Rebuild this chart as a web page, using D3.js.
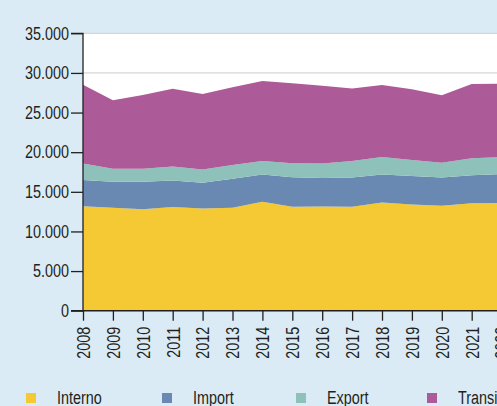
<!DOCTYPE html>
<html>
<head>
<meta charset="utf-8">
<script src="https://cdn.jsdelivr.net/npm/d3@7"></script>
<style>
  html, body { margin: 0; padding: 0; overflow: hidden; background: #dbebf5; }
  svg { display: block; }
  text { font-family: "Liberation Sans", Arial, sans-serif; fill: #231f20; }
</style>
</head>
<body>
<svg id="chart" width="497" height="406"></svg>
<script>
const years = [2008,2009,2010,2011,2012,2013,2014,2015,2016,2017,2018,2019,2020,2021,2022];
const seriesNames = ["Interno", "Import", "Export", "Transit"];
const interno = [13190,12980,12810,13070,12900,12980,13740,13130,13160,13100,13660,13400,13230,13570,13600];
const importV = [3290,3280,3450,3370,3240,3660,3460,3710,3570,3720,3540,3580,3590,3530,3630];
const exportV = [2100,1640,1640,1760,1690,1730,1680,1760,1850,2060,2180,2020,1840,2120,2150];
const transit = [9930,8640,9310,9800,9510,9810,10100,10090,9810,9170,9090,8930,8510,9380,9260];
const yTicks = [0,5000,10000,15000,20000,25000,30000,35000];
const colors = ["#f4c934", "#6a89b2", "#8ec1b9", "#ad5a98"];

(function () {
const rows = years.map((yr, i) => ({
  year: yr, Interno: interno[i], Import: importV[i], Export: exportV[i], Transit: transit[i]
}));

const svg = d3.select("#chart");
const mLeft = 83, mTop = 33.3, mBottom = 310.7;
const step = 29.9;
const x = d3.scaleLinear().domain([2008, 2022]).range([mLeft, mLeft + 14 * step]);
const y = d3.scaleLinear().domain([0, 35000]).range([mBottom, mTop]);

svg.append("rect")
  .attr("x", mLeft).attr("y", mTop)
  .attr("width", 600).attr("height", mBottom - mTop)
  .attr("fill", "#ffffff");

svg.append("g").selectAll("line").data(yTicks.filter(d => d > 0)).join("line")
  .attr("x1", mLeft).attr("x2", 600)
  .attr("y1", d => y(d)).attr("y2", d => y(d))
  .attr("stroke", "#cccccc").attr("stroke-width", 1);

const layers = d3.stack().keys(seriesNames)(rows);
const area = d3.area()
  .x(d => x(d.data.year))
  .y0(d => y(d[0]))
  .y1(d => y(d[1]));

svg.append("g").selectAll("path").data(layers).join("path")
  .attr("d", area)
  .attr("fill", (d, i) => colors[i]);

const fontFam = '"Liberation Sans", Arial, sans-serif';

const yAxis = d3.axisLeft(y)
  .tickValues(yTicks)
  .tickSize(12)
  .tickPadding(2)
  .tickFormat(d => d === 0 ? "0" : d3.format(",")(d).replace(/,/g, "."));
const gy = svg.append("g").attr("transform", `translate(${mLeft},0)`).call(yAxis);
gy.select(".domain").attr("stroke", "#231f20").attr("stroke-width", 1.3)
  .attr("d", `M-12,${mTop}H0V${mBottom}H-12`);
gy.selectAll(".tick line").attr("stroke", "#231f20").attr("stroke-width", 1.3);
gy.selectAll(".tick text").attr("font-size", 18).attr("fill", "#231f20")
  .style("font-family", fontFam);

const xAxis = d3.axisBottom(x)
  .tickValues(years)
  .tickSize(10)
  .tickPadding(6)
  .tickFormat(d3.format("d"));
const gx = svg.append("g").attr("transform", `translate(0,${mBottom})`).call(xAxis);
gx.select(".domain").attr("stroke", "#231f20").attr("stroke-width", 1.6)
  .attr("d", `M${mLeft},0H600`);
gx.selectAll(".tick line").attr("stroke", "#231f20").attr("stroke-width", 1.3);
gx.selectAll(".tick text")
  .attr("font-size", 18).attr("fill", "#231f20")
  .style("font-family", fontFam)
  .attr("text-anchor", "end")
  .attr("transform", "rotate(-90)")
  .attr("x", -16).attr("y", 0).attr("dy", "0.35em");

const legendX = [26, 162, 296, 427];
const lg = svg.append("g").selectAll("g").data(seriesNames).join("g")
  .attr("transform", (d, i) => `translate(${legendX[i]},393)`);
lg.append("rect").attr("width", 10).attr("height", 10).attr("fill", (d, i) => colors[i]);
lg.append("text").attr("x", 31).attr("y", 10.5).attr("font-size", 18)
  .style("font-family", fontFam).text(d => d);

// condense all text (narrow typeface look)
svg.selectAll("text").each(function () {
  const w = this.getComputedTextLength();
  d3.select(this).attr("textLength", w * 0.8).attr("lengthAdjust", "spacingAndGlyphs");
});
})();
</script>
</body>
</html>
